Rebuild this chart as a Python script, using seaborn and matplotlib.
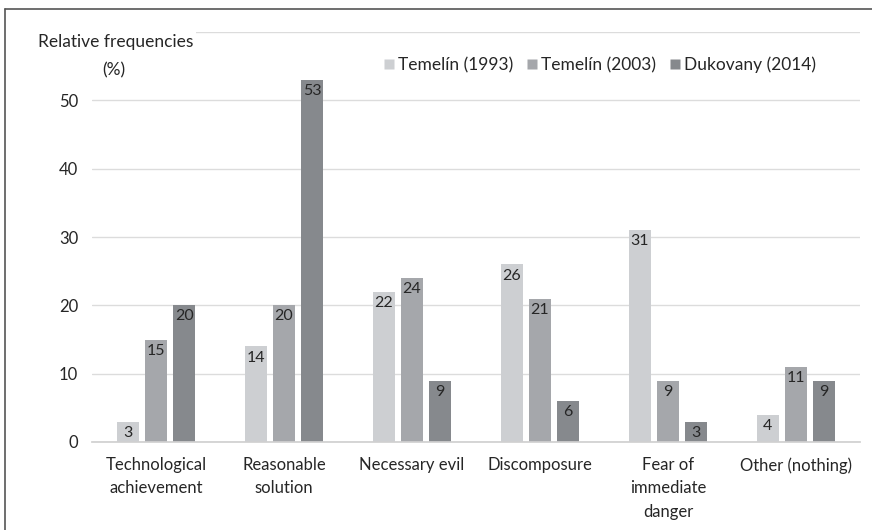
import matplotlib
matplotlib.use("Agg")
import matplotlib.pyplot as plt
import seaborn as sns
import pandas as pd
from matplotlib.lines import Line2D

categories = ["Technological\nachievement", "Reasonable\nsolution", "Necessary evil",
              "Discomposure", "Fear of\nimmediate\ndanger", "Other (nothing)"]
series_names = ["Temelín (1993)", "Temelín (2003)", "Dukovany (2014)"]
temelin_1993 = [3, 14, 22, 26, 31, 4]
temelin_2003 = [15, 20, 24, 21, 9, 11]
dukovany_2014 = [20, 53, 9, 6, 3, 9]
y_ticks = [0, 10, 20, 30, 40, 50, 60]
y_ticklabels = ["0", "10", "20", "30", "40", "50", ""]
colors = ["#cdcfd2", "#a5a7ab", "#86898d"]

rows = []
for name, vals in zip(series_names, [temelin_1993, temelin_2003, dukovany_2014]):
    for c, v in zip(categories, vals):
        rows.append({"category": c, "series": name, "value": v})
df = pd.DataFrame(rows)

sns.set_theme(style="white")
plt.rcParams["font.family"] = ["Lato", "DejaVu Sans"]

fig = plt.figure(figsize=(8.72, 5.30), dpi=100)
ax = fig.add_axes([92/872, 1-442/530, (860-92)/872, (442-32)/530])

sns.barplot(data=df, x="category", y="value", hue="series", order=categories,
            hue_order=series_names, palette=colors, width=0.66, gap=0.2,
            saturation=1, edgecolor="none", ax=ax, legend=False)

txtc = "#262626"
for cont in ax.containers:
    for p in cont.patches:
        h = p.get_height()
        ax.annotate(f"{int(round(h))}", (p.get_x() + p.get_width()/2, h),
                    xytext=(0, -3), textcoords="offset points",
                    ha="center", va="top", fontsize=11.5, color=txtc)

ax.set_xlim(-0.5, 5.5)
ax.set_ylim(0, 60)
ax.set_yticks(y_ticks)
ax.set_yticklabels(y_ticklabels, fontsize=12, color=txtc)
ax.tick_params(axis="y", length=0, pad=10)
ax.tick_params(axis="x", length=0, pad=11, labelsize=12, labelcolor=txtc)
ax.set_xlabel("")
ax.set_ylabel("")
ax.yaxis.grid(True, color="#dcdcdc", linewidth=1)
ax.set_axisbelow(True)
for s in ["top", "right", "left"]:
    ax.spines[s].set_visible(False)
ax.spines["bottom"].set_color("#d0d0d0")

for t in ax.get_xticklabels():
    t.set_linespacing(1.55)

# axis title with white background covering top gridline
fig.text(38/872, 1-42/530, "Relative frequencies", fontsize=12.5, color=txtc,
         ha="left", va="center",
         bbox=dict(facecolor="white", edgecolor="none", pad=2))
fig.text(114/872, 1-70/530, "(%)", fontsize=12.5, color=txtc, ha="center", va="center")

handles = [Line2D([0], [0], marker="s", linestyle="none", markersize=7.5,
                  markerfacecolor=c, markeredgecolor="none") for c in colors]
fig.legend(handles, series_names, loc="center", bbox_to_anchor=(598/872, 1-65/530),
           ncol=3, frameon=False, fontsize=12.5, handletextpad=0.0,
           columnspacing=0.6, handlelength=1.0, labelcolor=txtc)

# frame lines (top and left)
fig.add_artist(Line2D([5/872, 1], [1-9/530, 1-9/530], color="#555555", linewidth=1.2,
                      transform=fig.transFigure))
fig.add_artist(Line2D([5/872, 5/872], [0, 1-9/530], color="#555555", linewidth=1.2,
                      transform=fig.transFigure))

fig.savefig("out.png", dpi=100)
